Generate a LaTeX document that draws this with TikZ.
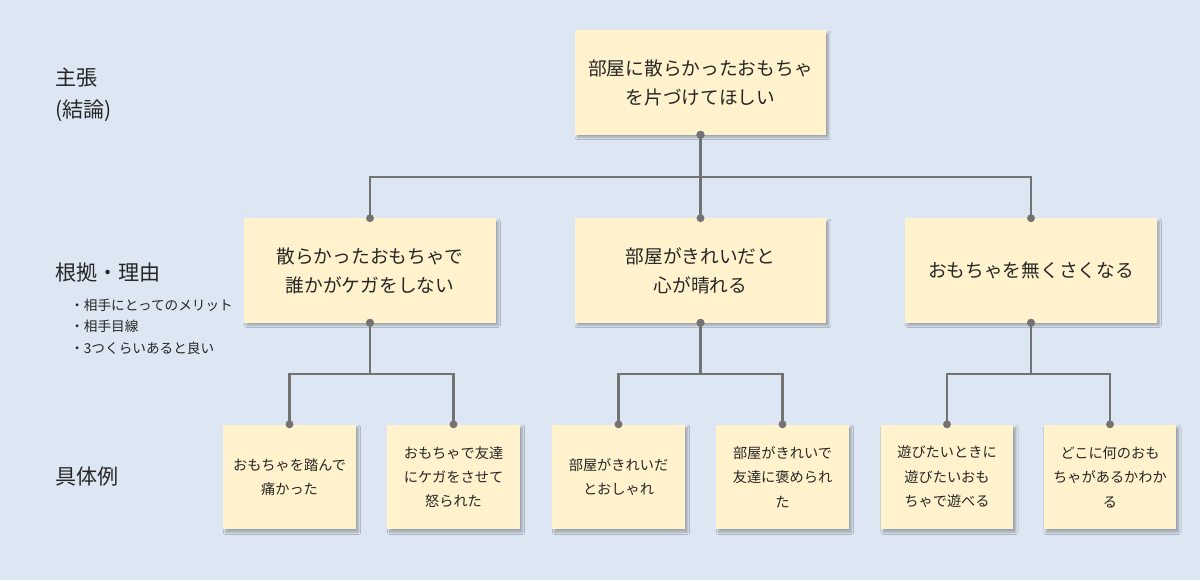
\documentclass[tikz,border=0pt]{standalone}
\usepackage{fontspec}
\setmainfont{Noto Sans CJK JP}
\usetikzlibrary{arrows.meta,shadows.blur}

\definecolor{bgblue}{HTML}{DDE7F3}
\definecolor{notefill}{HTML}{FFF2CC}
\definecolor{linkgray}{HTML}{737373}
\definecolor{textdark}{HTML}{262626}

\tikzset{
  note/.style={rectangle, fill=notefill, text=textdark, align=center, inner sep=0pt,
    blur shadow={shadow xshift=1.8pt, shadow yshift=-2pt, shadow blur radius=1.6pt,
      shadow blur steps=5, shadow opacity=30}},
  bignote/.style={note, minimum width=6.28cm, minimum height=2.6cm, font=\fontsize{13.3}{20.5}\selectfont},
  smallnote/.style={note, minimum width=3.32cm, minimum height=2.62cm, font=\fontsize{10.1}{17.4}\selectfont},
  rowlabel/.style={anchor=west, align=left, inner sep=0pt, text=textdark, font=\fontsize{15}{23}\selectfont},
  link/.style={draw=linkgray, line width=1.6pt, {Circle[length=5.5pt]}-{Circle[length=5.5pt]},
    shorten <=-2.75pt, shorten >=-2.75pt}
}

\begin{document}
\begin{tikzpicture}[x=0.025cm, y=-0.025cm]
    \fill[bgblue] (0,0) rectangle (1200,580);
    \useasboundingbox (0,0) rectangle (1200,580);

    \node (claim) [rowlabel] at (55,95) {主張\\(結論)};
    \node (reason) [rowlabel] at (55,273) {根拠・理由};
    \node (hints) [rowlabel, font=\fontsize{9.7}{15.4}\selectfont] at (70,326.5) {・相手にとってのメリット\\・相手目線\\・3つくらいあると良い};
    \node (example) [rowlabel] at (55,477) {具体例};

    \node (top) [bignote] at (700.5,82.5) {部屋に散らかったおもちゃ\\を片づけてほしい};

    \node (why1) [bignote] at (370,270.5) {散らかったおもちゃで\\誰かがケガをしない};
    \node (why2) [bignote] at (700.5,270.5) {部屋がきれいだと\\心が晴れる};
    \node (why3) [bignote] at (1031,270.5) {おもちゃを無くさくなる};

    \node (ex11) [smallnote] at (289.5,477) {おもちゃを踏んで\\痛かった};
    \node (ex12) [smallnote] at (453.5,477) {おもちゃで友達\\にケガをさせて\\怒られた};
    \node (ex21) [smallnote] at (618.5,477) {部屋がきれいだ\\とおしゃれ};
    \node (ex22) [smallnote] at (782.5,477) {部屋がきれいで\\友達に褒められ\\た};
    \node (ex31) [smallnote] at (947,477) {遊びたいときに\\遊びたいおも\\ちゃで遊べる};
    \node (ex32) [smallnote] at (1110,477) {どこに何のおも\\ちゃがあるかわか\\る};

    % Verbindungen
    \draw[link] (top.south) -- (why2.north);
    \draw[link] (top.south) -- ++(0,42) -| (why1.north);
    \draw[link] (top.south) -- ++(0,42) -| (why3.north);
    \draw[link] (why1.south) -- ++(0,51) -| (ex11.north);
    \draw[link] (why1.south) -- ++(0,51) -| (ex12.north);
    \draw[link] (why2.south) -- ++(0,51) -| (ex21.north);
    \draw[link] (why2.south) -- ++(0,51) -| (ex22.north);
    \draw[link] (why3.south) -- ++(0,51) -| (ex31.north);
    \draw[link] (why3.south) -- ++(0,51) -| (ex32.north);
\end{tikzpicture}
\end{document}
